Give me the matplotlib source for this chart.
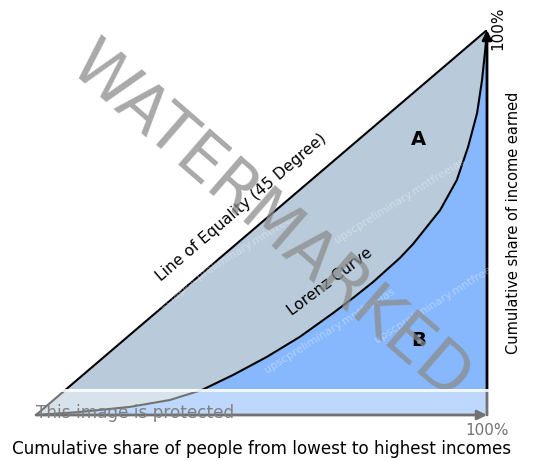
import numpy as np
import matplotlib.pyplot as plt
from matplotlib.patches import Rectangle

# Lorenz curve (share of people, share of income)
people_share = [0.0, 0.098, 0.208, 0.297, 0.368, 0.437, 0.512, 0.585, 0.659, 0.703,
                0.747, 0.807, 0.836, 0.896, 0.933, 0.958, 0.978, 0.989, 0.996, 1.0]
income_share = [0.0, 0.008, 0.021, 0.039, 0.065, 0.104, 0.151, 0.203, 0.265, 0.304,
                0.345, 0.408, 0.444, 0.532, 0.610, 0.696, 0.784, 0.870, 0.948, 1.0]
equality = [0.0, 1.0]

area_labels = ['A', 'B']
xlabel = 'Cumulative share of people from lowest to highest incomes'
ylabel = 'Cumulative share of income earned'

W, H = 537, 461


def main():
    fig = plt.figure(figsize=(W / 100, H / 100), dpi=100)
    x0, y0, x1, y1 = 36, 415, 487, 30
    ax = fig.add_axes([x0 / W, (H - y0) / H, (x1 - x0) / W, (y0 - y1) / H])
    ax.set_xlim(0, 1)
    ax.set_ylim(0, 1)
    ax.axis('off')

    px = np.array(people_share)
    py = np.array(income_share)

    # areas
    ax.fill_between(px, py, px, color='#b9cbdb', lw=0, zorder=1)
    ax.fill_between(px, 0, py, color='#87b8fd', lw=0, zorder=1)

    ax.plot(equality, equality, color='black', lw=1.5, zorder=3)
    ax.plot(px, py, color='black', lw=1.5, zorder=3, solid_joinstyle='round')

    # axes arrows
    for start, end in [((0.0, 0.0), (1.0, 0.0)), ((1.0, 0.0), (1.0, 1.0))]:
        ax.annotate('', xy=end, xytext=start,
                    arrowprops=dict(arrowstyle='-|>', color='black', lw=2, mutation_scale=14,
                                    shrinkA=0, shrinkB=0), annotation_clip=False, zorder=4)

    ax.text(0.849, 0.715, area_labels[0], fontsize=14, fontweight='bold', ha='center', va='center')
    ax.text(0.849, 0.193, area_labels[1], fontsize=14, fontweight='bold', ha='center', va='center')

    ax.text(0.455, 0.54, 'Line of Equality (45 Degree)', fontsize=11.2, rotation=40.5,
            ha='center', va='center', rotation_mode='anchor')
    ax.text(0.652, 0.345, 'Lorenz Curve', fontsize=11.2, rotation=37,
            ha='center', va='center', rotation_mode='anchor')

    ax.text(1.024, 1.005, '100%', fontsize=11, rotation=90, ha='center', va='center',
            clip_on=False)
    ax.text(1.058, 0.5, ylabel, fontsize=10.5, rotation=90, ha='center', va='center',
            clip_on=False)
    ax.text(1.0, -0.04, '100%', fontsize=11, ha='center', va='center', clip_on=False)
    fig.text(262 / W, 1 - 449 / H, xlabel, fontsize=12.1, ha='center', va='center')

    # small faint watermarks
    for cx, cy in [(110, 120), (300, 70), (240, 250), (400, 200), (330, 330), (440, 300), (120, 330)]:
        fig.text(cx / W, 1 - cy / H, 'upscpreliminary.mntfreeias', fontsize=8, color='white',
                 alpha=0.35, rotation=32, ha='center', va='center')

    # big watermark
    fig.text(270 / W, 1 - 222 / H, 'WATERMARKED', fontsize=47, color='#8c8c8c', alpha=0.75,
             rotation=-41, ha='center', va='center', zorder=10)

    # protection band
    fig.patches.append(Rectangle((0, 1 - 392 / H), 1, 3 / H, transform=fig.transFigure,
                                 facecolor='white', alpha=0.9, lw=0, zorder=11))
    fig.patches.append(Rectangle((0, 1 - 437 / H), 1, 45 / H, transform=fig.transFigure,
                                 facecolor='white', alpha=0.45, lw=0, zorder=11))
    fig.text(36 / W, 1 - 413 / H, 'This image is protected', fontsize=12.2, color='#808080',
             ha='left', va='center', zorder=12)

    fig.savefig('out.png', dpi=100)


if __name__ == '__main__':
    main()
